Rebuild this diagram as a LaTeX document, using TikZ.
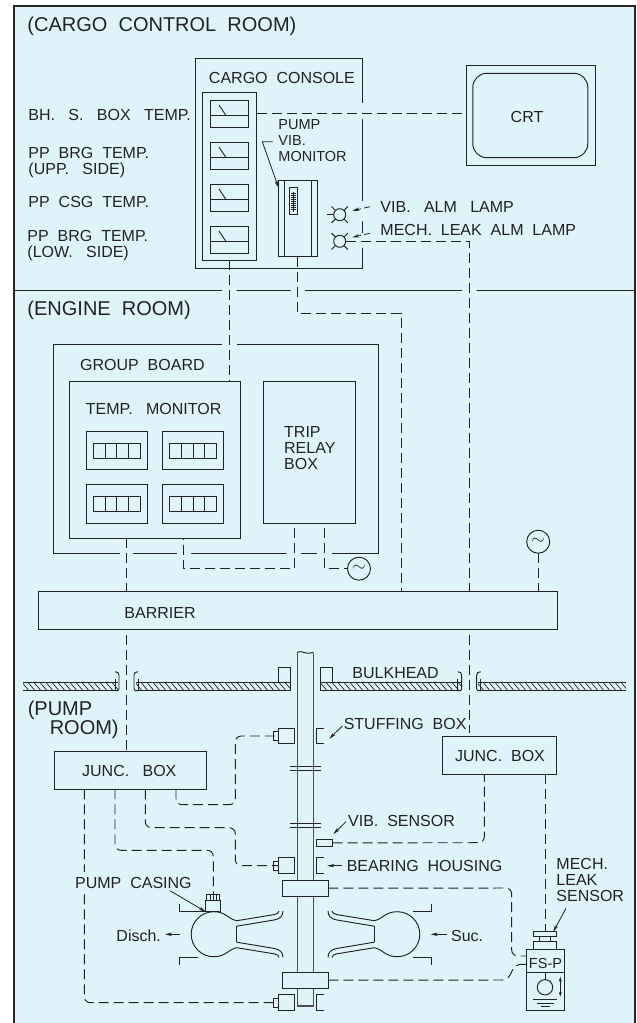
\documentclass[tikz,border=0pt]{standalone}
\usepackage{fontspec}
\setmainfont{Liberation Sans}
\usetikzlibrary{arrows.meta,calc,fit,positioning}
\definecolor{roomblue}{HTML}{DFF3FB}
\definecolor{inkgray}{HTML}{222222}
\tikzset{
  pbox/.style={draw=inkgray,line width=0.95pt,inner sep=0pt,outer sep=0pt},
  sig/.style={dash pattern=on 10pt off 5pt,rounded corners=6pt},
  txt/.style={font=\fontsize{16}{16}\selectfont,text=inkgray,inner sep=0pt,anchor=west,align=left},
  bigtxt/.style={font=\fontsize{20}{20}\selectfont,text=inkgray,inner sep=0pt,anchor=west,align=left},
  leader/.style={-{Stealth[length=7pt,width=3.5pt]},line width=0.8pt},
  gap/.style={fill=roomblue},
}
% pointer instrument, top left corner given
\newcommand{\meterat}[3]{%
  \node[pbox,fit={(#2,#3)($(#2,#3)+(38.5,27)$)}] (#1) {};
  \draw ($(#2,#3)+(0,15.5)$) -- ($(#2,#3)+(38.5,15.5)$);
  \draw ($(#2,#3)+(9,5)$) -- ($(#2,#3)+(16,15.5)$);
}
% digital display, top left corner given
\newcommand{\dispat}[3]{%
  \node[pbox,fit={(#2,#3)($(#2,#3)+(61.2,38.4)$)}] (#1) {};
  \draw ($(#2,#3)+(7.3,11.7)$) rectangle ($(#2,#3)+(54,27)$);
  \foreach \k in {1,2,3}
    \draw ($(#2,#3)+(7.3,11.7)+(11.7*\k,0)$) -- +(0,15.3);
}
% hatched floor strip
\newcommand{\floorstrip}[2]{%
  \begin{scope}
    \clip (#1,682.3) rectangle (#2,690.7);
    \foreach \k in {#1,\the\numexpr#1+6\relax,...,\the\numexpr#2+8\relax}
      \draw[line width=0.7pt] (\k-7,682.3) -- (\k,690.7);
  \end{scope}
  \draw (#1,682.3) -- (#2,682.3) (#1,690.7) -- (#2,690.7);
}
% bent lip at the end of a floor strip
\newcommand{\lipat}[2]{%
  \begin{scope}[shift={(#1,0)},xscale=#2]
    \draw (-5,690.7) -- (-2,690.7) arc[start angle=90,end angle=0,radius=2] -- (0,675) .. controls (0,673) and (-1.5,671.7) .. (-4,671.7);
    \draw (-4,678.5) -- (-4,690.7);
  \end{scope}
}
% sensor head beside the shaft
\newcommand{\headat}[2]{%
  \node[pbox,fit={(278.3,#2-7.8)(294.3,#2+7.8)}] (#1) {};
  \draw (278.3,#2-4.5) -- (273.3,#2-4.5) -- (273.3,#2+4.5) -- (278.3,#2+4.5);
  \coordinate (#1end) at (278.3,#2);
  \draw (316.7+7.6,#2-7.8) -- (316.7,#2-7.8) -- (316.7,#2+7.8) -- (316.7+7.6,#2+7.8);
}
% half of the pump
\newcommand{\pumphalf}{%
  \draw (236.7,920.7) .. controls (228,919) and (226,911.7) .. (213.7,911.7)
    arc[start angle=-90,end angle=-270,radius=22.5]
    .. controls (226,956.7) and (228,949.4) .. (236.7,947.7);
  \draw (236.7,920.7) -- (274,914.6) .. controls (277,914) and (279,913) .. (279,911);
  \draw (236.7,926.2) -- (274,920) .. controls (280,919) and (283,916) .. (283,911);
  \draw (236.7,947.7) -- (274,953.8) .. controls (277,954.4) and (279,955.4) .. (279,957.4);
  \draw (236.7,942.2) -- (274,948.4) .. controls (280,949.4) and (283,952.4) .. (283,957.4);
  \draw (236.7,926.2) -- (236.7,942.2);
}
\newcommand{\lampat}[3]{%
  \node[pbox,circle,minimum size=12pt] (#1) at (#2,#3) {};
  \foreach \a in {45,135,225,315}
    \draw (#1.\a) -- +({5.5*cos(\a)},{-5.5*sin(\a)});
}
\begin{document}
\begin{tikzpicture}[x=1pt,y=-1pt,line width=0.95pt,color=inkgray]
\useasboundingbox (0,0) rectangle (637,1023);
\fill[white] (0,0) rectangle (637,1023);
\fill[roomblue] (14,5.5) rectangle (635,1030);
\draw[line width=2pt,draw=black!85] (14,1030) -- (14,5.5) -- (635,5.5) -- (635,1030);
\draw (14,290.7) -- (635,290.7);
% (CARGO CONTROL ROOM)
\node[bigtxt] (cargoroom) at (27,26) {(CARGO~~CONTROL~~ROOM)};
\node[pbox,fit={(195,58.5)(362.5,268)}] (console) {};
\node[txt] (consolelbl) at (208.5,77.5) {CARGO~~CONSOLE};
\node[pbox,fit={(202,92)(256.5,260)}] (panel) {};
\meterat{mtra}{210}{100}
\meterat{mtrb}{210}{142}
\meterat{mtrc}{210}{184}
\meterat{mtrd}{210}{226}
\node[txt] (bhlbl) at (28,114.5) {BH.~~~S.~~~BOX~~~TEMP.};
\node[txt] (upplbl) at (28,162.5) {PP~~BRG~~TEMP.\\(UPP.~~~SIDE)};
\node[txt] (csglbl) at (28,201.5) {PP~~CSG~~TEMP.};
\node[txt] (lowlbl) at (27,245.5) {PP~~BRG~~TEMP.\\(LOW.~~~SIDE)};
\node[pbox,fit={(278.5,180)(317,256.7)}] (vibmon) {};
\draw (284.4,180) -- (284.4,256.7) (311,180) -- (311,256.7);
\node[pbox,fit={(289.3,187.3)(297.3,214.7)}] (vibscale) {};
\draw (293.3,191.5) -- (293.3,211.5);
\foreach \k in {193,195,...,209} \draw[line width=0.6pt] (291,\k) -- (295.6,\k);
\node[txt,font=\fontsize{14.5}{16}\selectfont,anchor=north west] (viblbl) at (278,119) {PUMP\\VIB.\\MONITOR};
\coordinate (vibbend) at (262.3,141.7);
\draw[leader] (272.7,141.7) -- (vibbend) -- (vibmon.north west |- 0,187.7);
\lampat{lampa}{339.7}{214.7}
\lampat{lampb}{339.7}{241.3}
\draw (lampa.west) -- +(-7,0);
\node[txt] (almlbl) at (380,207) {VIB.~~~ALM~~~LAMP};
\node[txt] (leaklbl) at (380,229.5) {MECH.~~LEAK~~ALM~~LAMP};
\draw[leader] (370,206.7) -- (352.3,210.7);
\draw[leader] (370,233.3) -- (352.3,237.3);
\node[pbox,fit={(466,65.7)(595,165.3)}] (crt) {};
\draw[rounded corners=14pt] (472.8,73.3) rectangle (587.8,157.7);
\node[txt,anchor=center] (crtlbl) at (527,116.5) {CRT};
% (ENGINE ROOM)
\node[bigtxt] (engineroom) at (27,310) {(ENGINE~~ROOM)};
\node[pbox,fit={(53.7,344)(378,553.3)}] (group) {};
\node[txt] (grouplbl) at (79.7,364.5) {GROUP~~BOARD};
\node[pbox,fit={(69,381.7)(240.6,538.3)}] (tempmon) {};
\node[txt] (tempmonlbl) at (85.4,408.5) {TEMP.~~~MONITOR};
\dispat{dspa}{86.2}{431.3}
\dispat{dspb}{162.5}{431.3}
\dispat{dspc}{86.2}{484.7}
\dispat{dspd}{162.5}{484.7}
\node[pbox,fit={(263.4,381.7)(355.3,523)}] (trip) {};
\node[txt,anchor=north west] (triplbl) at (283.7,426.5) {TRIP\\RELAY\\BOX};
\node[pbox,circle,minimum size=23pt] (acleft) at (359,568.7) {};
\node[font=\fontsize{17}{17}\selectfont,inner sep=0pt] (aclefts) at (acleft) {$\sim$};
\node[pbox,circle,minimum size=23pt] (acright) at (538.2,541.7) {};
\node[font=\fontsize{17}{17}\selectfont,inner sep=0pt] (acrights) at (acright) {$\sim$};
\node[pbox,fit={(38.6,591.7)(557.3,629.7)}] (barrier) {};
\node[txt] (barrierlbl) at (124,612.5) {BARRIER};
% gaps in the box lines where the cables pass
\fill[gap] (361,103) rectangle (364,119) (361,201) rectangle (364,221) (361,233) rectangle (364,248);
\fill[gap] (222,289) rectangle (236.5,292.5) (290.6,289) rectangle (305,292.5) (462,289) rectangle (476.5,292.5);
\fill[gap] (222,342.5) rectangle (236.5,345.5);
\fill[gap] (120,552) rectangle (133,555) (177,552) rectangle (191,555) (286.6,552) rectangle (301,555) (317,552) rectangle (332,555);
% cables
\draw[sig] (panel.east |- mtra) -- (crt.west |- mtra);
\draw[sig] (panel.south) -- (panel.south |- tempmon.north);
\draw[sig,rounded corners=0pt] (vibmon.south) -- ++(0,56.3) -| ($(barrier.north west)+(362.4,0)$);
\draw[sig,rounded corners=0pt] (lampb.east) -| ($(barrier.north west)+(430.9,0)$);
\draw[sig,dash phase=10pt] ($(barrier.south west)+(430.9,0)$) -- (469.5,733);
\draw[sig] (126.5,538.3) -- (126.5,591.7);
\draw[sig,dash phase=10pt] (126.5,629.7) -- (126.5,751.3);
\draw[sig,rounded corners=0pt] (294,528) -- (294,568.7) -- (183.3,568.7) -- (183.3,538.3);
\draw[sig,rounded corners=0pt] (324.8,528) -- (324.8,568.7) -- (acleft.west);
\draw[sig] (acright.south) -- (acright.south |- barrier.north);
% bulkhead
\floorstrip{23}{118}
\floorstrip{136}{290}
\floorstrip{321}{461}
\floorstrip{478}{626}
\lipat{119}{1}
\lipat{134}{-1}
\lipat{461.7}{1}
\lipat{476.7}{-1}
\draw (278.3,682.3) -- (278.3,667.3) -- (290.7,667.3) -- (290.7,690.7);
\draw (320.7,690.7) -- (320.7,667.3) -- (332.7,667.3) -- (332.7,682.3);
\node[txt] (bulklbl) at (352,673.5) {BULKHEAD};
% shaft
\draw[line width=1.3pt,draw=inkgray!80] (297.3,653) -- (297.3,1006) -- (313.3,1006) -- (313.3,653);
\draw (297.3,653) .. controls (298,651) and (301,651.5) .. (305,652.8) .. controls (308,653.5) and (312.5,653.2) .. (313.3,652);
\draw (290,766.7) -- (321,766.7) (290,770.7) -- (321,770.7);
\draw (290,823.3) -- (321,823.3) (290,827.3) -- (321,827.3);
\node[pbox,fill=roomblue,fit={(282.3,880.3)(328.3,896)}] (collarup) {};
\node[pbox,fill=roomblue,fit={(282.3,972.3)(328.3,988)}] (collarlow) {};
\headat{heada}{736}
\headat{headb}{865.7}
\headat{headc}{1002.7}
\node[txt] (stufflbl) at (343.3,724.3) {STUFFING~~BOX};
\draw[leader] (342.3,726) -- (329.3,738.7);
\node[pbox,fit={(316.7,839)(332.7,846.7)}] (vibsens) {};
\node[txt] (vsenslbl) at (347.7,820.5) {VIB.~~SENSOR};
\draw[leader] (346,821.7) -- (333.3,834);
\node[txt] (bearlbl) at (346.3,865.5) {BEARING~~HOUSING};
\draw[leader] (341.7,865.7) -- (327.3,865.7);
% (PUMP ROOM)
\node[bigtxt] (pumproom) at (27.3,710) {(PUMP};
\node[bigtxt] (pumproomb) at (49.3,729.5) {ROOM)};
\node[pbox,fit={(54,751.3)(206.7,789.3)}] (juncl) {};
\node[txt,anchor=center] (jlbl) at (129.3,770.5) {JUNC.~~~BOX};
\node[pbox,fit={(442.3,736)(556.7,774.3)}] (juncr) {};
\node[txt,anchor=center] (jrlbl) at (500,755.5) {JUNC.~~BOX};
% pumps
\pumphalf
\begin{scope}[shift={(611,0)},xscale=-1]
\pumphalf
\end{scope}
\draw (179.3,904) -- (179.3,911.3) -- (205.7,911.3);
\draw (197.7,957) -- (179.3,957) -- (179.3,965);
\draw (413.3,911.3) -- (431.3,911.3) -- (431.3,904);
\draw (413.3,957) -- (431.3,957) -- (431.3,965);
\node[pbox,fit={(205.7,900)(220.7,911.7)}] (casing) {};
\draw (206.7,900) -- (206.7,894.3) -- (219.3,894.3) -- (219.3,900);
\draw[line width=0.6pt] (210,894.3) -- (210,900) (213.3,894.3) -- (213.3,900) (216.7,894.3) -- (216.7,900);
\node[txt] (dischlbl) at (116,935.5) {Disch.};
\draw[leader] (180,934.3) -- (165,934.3);
\node[txt] (suclbl) at (450.7,935.5) {Suc.};
\draw[leader] (446.7,934.3) -- (430.7,934.3);
% float switch
\node[pbox,fit={(526.3,949.3)(564.7,1010.3)}] (fsp) {};
\draw (526.3,972) -- (564.7,972);
\node[txt,font=\fontsize{14.5}{16}\selectfont,anchor=center] (fsplbl) at (545.5,963) {FS-P};
\node[pbox,fit={(533.3,931)(556.7,936.7)}] (plate) {};
\draw (533.3,949.3) -- (533.3,941.7) -- (556.7,941.7) -- (556.7,949.3);
\draw (539.3,936.7) -- (539.3,941.7) (550.7,936.7) -- (550.7,941.7);
\node[pbox,circle,minimum size=15.4pt] (ball) at (545,987.3) {};
\draw (545,972) -- (ball.north);
\draw[{Stealth[length=5pt,width=3pt]}-{Stealth[length=5pt,width=3pt]}] (560.3,976.7) -- (560.3,996.7);
\draw (533,999) -- (557,999) (536.5,1003) -- (553.5,1003) (540.5,1006.5) -- (549.5,1006.5);
\node[txt,anchor=north west] (mechlbl) at (556,857.5) {MECH.\\LEAK\\SENSOR};
\draw[leader] (566,908.3) -- (553.3,931.7);
% cables in the pump room
\draw[sig] (84.3,789.3) -- (84.3,1002.7) -- (headcend);
\draw[sig] (115,789.3) -- (115,850.3) -- (213.3,850.3) -- (213.3,894.3);
\draw[sig] (145.3,789.3) -- (145.3,827.7) -- (235.3,827.7) -- (235.3,865.7) -- (headbend);
\draw[sig] (176,789.3) -- (176,804.7) -- (235.3,804.7) -- (235.3,736) -- (headaend);
\draw[sig] (vibsens.east) -- (484.3,842.7) -- (484.3,774.3);
\draw[sig] (545.3,774.3) -- (545.3,931);
\draw[sig] (collarup.east) -- (511.7,888) -- (511.7,956) -- (526.3,956);
\draw[sig] (collarlow.east) -- (508,980) -- (515,964.3) -- (526.3,964.3);
% label sits over the cable
\node[txt,fill=roomblue,inner ysep=5pt] (casinglbl) at (74.7,882.5) {PUMP~~CASING};
\draw[leader] (170,890.7) -- (205.7,911.7);
\end{tikzpicture}
\end{document}
